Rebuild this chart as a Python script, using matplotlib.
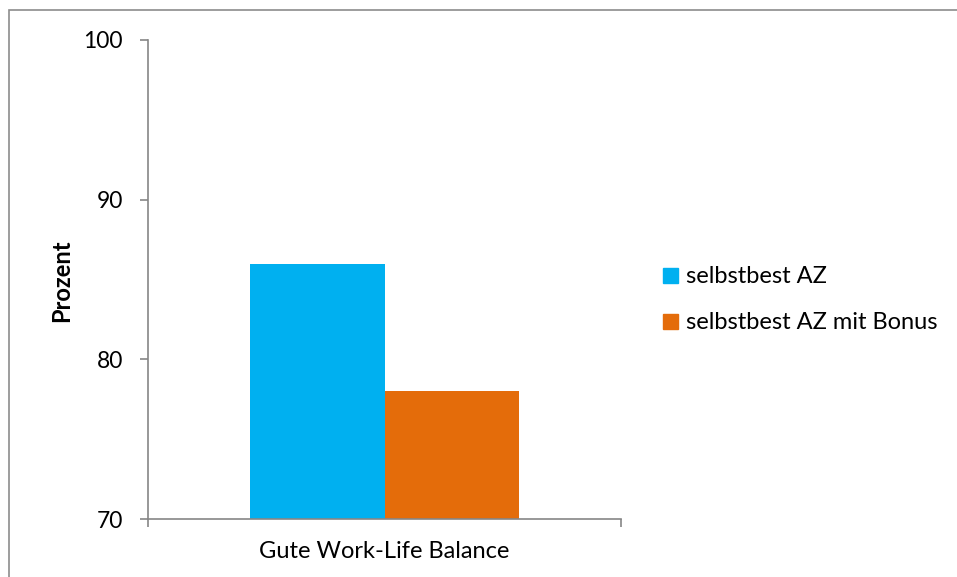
import matplotlib
matplotlib.use("Agg")
import matplotlib.pyplot as plt
from matplotlib.lines import Line2D
from matplotlib.patches import Rectangle

plt.rcParams['font.family'] = ['Lato', 'DejaVu Sans']

categories = ["Gute Work-Life Balance"]
series_names = ["selbstbest AZ", "selbstbest AZ mit Bonus"]
values_az = [86]
values_bonus = [78]
colors = ["#00B0F0", "#E46C0A"]
y_ticks = [70, 80, 90, 100]

FS = 16.5

fig = plt.figure(figsize=(9.57, 5.77), dpi=100)
ax = fig.add_axes([148/957, 1-519/577, (621-148)/957, (519-40)/577])

w = 0.2854
xs = list(range(len(categories)))
ax.bar([x - w/2 for x in xs], values_az, width=w, color=colors[0], zorder=2)
ax.bar([x + w/2 for x in xs], values_bonus, width=w, color=colors[1], zorder=2)

ax.set_ylim(70, 100)
ax.set_xlim(-0.5, len(categories) - 0.5)
ax.set_yticks(y_ticks)
ax.set_yticklabels([str(t) for t in y_ticks], fontsize=FS)
ax.set_xticks(xs)
ax.set_xticklabels(categories, fontsize=17)
ax.tick_params(axis='x', which='major', length=0, pad=16)
ax.set_xticks([-0.5, len(categories) - 0.5], minor=True)
ax.tick_params(axis='x', which='minor', length=6, color='#868686', width=1.2)
ax.tick_params(axis='y', length=6, color='#868686', width=1.2, pad=12)

for s in ['top', 'right']:
    ax.spines[s].set_visible(False)
for s in ['left', 'bottom']:
    ax.spines[s].set_color('#868686')
    ax.spines[s].set_linewidth(1.2)

fig.text(62/957, 1-281/577, "Prozent", rotation=90, fontsize=17, fontweight='bold',
         ha='center', va='center')

handles = [Line2D([], [], marker='s', linestyle='none', markersize=10.8,
                  markerfacecolor=c, markeredgecolor=c) for c in colors]
fig.legend(handles, series_names, loc='upper left',
           bbox_to_anchor=(649/957, 1-254/577), frameon=False, fontsize=17,
           handlelength=0.8, handletextpad=0.25, labelspacing=1.08, borderpad=0)

fig.patches.append(Rectangle((9/957, -0.05), 1.2, 1 - 10/577 + 0.05,
                             transform=fig.transFigure, fill=False,
                             edgecolor='#8c8c8c', linewidth=1.2))

fig.savefig("out.png", dpi=100)
